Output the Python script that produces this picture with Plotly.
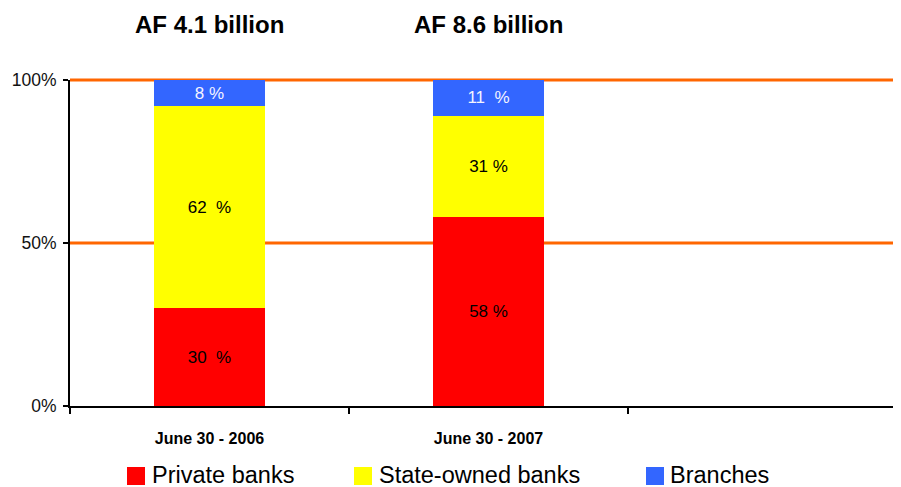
import plotly.graph_objects as go

categories = ["June 30 - 2006", "June 30 - 2007", " "]
private_banks = [30, 58, None]
state_owned = [62, 31, None]
branches = [8, 11, None]
label_private = ["30\u00a0\u00a0%", "58 %", ""]
label_state = ["62\u00a0\u00a0%", "31 %", ""]
label_branches = ["8 %", "11\u00a0\u00a0%", ""]
totals_titles = ["AF 4.1 billion", "AF 8.6 billion"]
series_names = ["Private banks", "State-owned banks", "Branches"]
colors = ["#FF0000", "#FFFF00", "#3366FF"]
text_colors = ["black", "black", "#F4F4FF"]
y_ticks = [0, 50, 100]
grid_values = [50, 100]

OFF = 8  # page body margin
W, H = 901 - OFF, 487 - OFF
ML, MR, MT = 70 - OFF, 0, 80 - OFF
AXIS_Y = 406 - OFF
MB = H - AXIS_Y
PW = W - ML - MR
PH = H - MT - MB
FONT = "Liberation Sans, Arial, sans-serif"
Y_MAX = max(y_ticks)


def px(x):
    return (x - OFF - ML) / PW


def py(y):
    return (AXIS_Y - (y - OFF)) / PH


fig = go.Figure()
for name, vals, labels, col, tc in zip(series_names, [private_banks, state_owned, branches],
                                       [label_private, label_state, label_branches], colors, text_colors):
    fig.add_trace(go.Bar(
        x=categories, y=vals, name=name, marker=dict(color=col, line=dict(width=0)),
        width=0.4, text=labels,
        textposition="inside", insidetextanchor="middle", textangle=0,
        textfont=dict(family=FONT, size=17, color=tc),
        showlegend=False, hoverinfo="skip",
    ))

cat_w = PW / 279.0
fig.update_layout(
    barmode="stack",
    width=W, height=H,
    margin=dict(l=ML, r=MR, t=MT, b=MB, pad=0),
    plot_bgcolor="rgba(0,0,0,0)", paper_bgcolor="white",
    font=dict(family=FONT, color="#222"),
    uniformtext=dict(minsize=17, mode="show"),
    xaxis=dict(
        type="category", categoryorder="array", categoryarray=categories,
        range=[-0.5, -0.5 + cat_w], showgrid=False, zeroline=False,
        showline=True, linecolor="black", linewidth=1.5,
        ticks="outside", tickson="boundaries", ticklen=6, tickwidth=1.5, tickcolor="black",
        tickfont=dict(size=16, color="black", family=FONT, weight="bold"),
        ticklabelstandoff=17,
    ),
    yaxis=dict(
        range=[0, Y_MAX], tickvals=y_ticks, ticktext=[f"{v}%" for v in y_ticks],
        showgrid=False, zeroline=False,
        showline=True, linecolor="black", linewidth=2,
        ticks="outside", ticklen=5, tickwidth=1.5, tickcolor="black",
        tickfont=dict(size=17.5, color="#111"),
        ticklabelstandoff=3,
    ),
)

for yv in grid_values:
    fig.add_shape(type="line", xref="paper", yref="paper", x0=0, x1=1,
                  y0=yv / Y_MAX, y1=yv / Y_MAX,
                  line=dict(color="#FF6600", width=3), layer="below")

for cat, t in zip(categories, totals_titles):
    fig.add_annotation(x=cat, xref="x", y=py(24), yref="paper", text=f"<b>{t}</b>",
                       showarrow=False, font=dict(size=24, color="black"), yanchor="middle")

leg = [(127, 150), (354, 377), (646, 668)]
for (sx, tx), name, col in zip(leg, series_names, colors):
    fig.add_shape(type="rect", xref="paper", yref="paper",
                  x0=px(sx), x1=px(sx + 18), y0=py(485), y1=py(467),
                  fillcolor=col, line=dict(width=0))
    fig.add_annotation(x=px(tx), y=py(475), xref="paper", yref="paper", text=name,
                       showarrow=False, xanchor="left", yanchor="middle",
                       font=dict(size=23.5, color="black"))

fig.write_html("out.html")
